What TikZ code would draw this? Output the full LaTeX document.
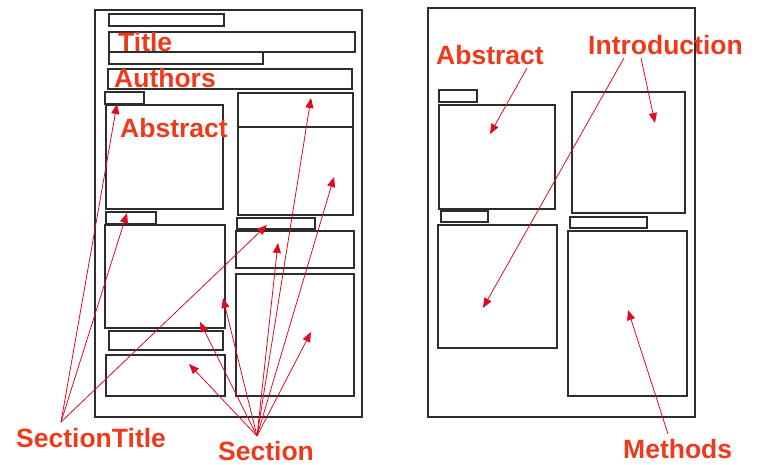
\documentclass[tikz,border=0pt]{standalone}
\usepackage{fontspec}
\setmainfont{Liberation Sans}
\usetikzlibrary{arrows.meta}
\definecolor{labelred}{RGB}{238,58,28}
\definecolor{arrowred}{RGB}{222,12,32}
\definecolor{frame}{RGB}{45,45,45}
\begin{document}
\begin{tikzpicture}[x=1pt,y=-1pt,
  frameline/.style={draw=frame,line width=1.1pt},
  heavy/.style={draw=frame,line width=2.2pt},
  lbl/.style={text=labelred,font=\fontsize{26.5}{30}\selectfont\bfseries,inner sep=0pt,anchor=base west},
  pointer/.style={draw=arrowred,line width=0.8pt,-{Triangle[length=10pt,width=8pt]}}]
\useasboundingbox (0,0) rectangle (759,465);

% ---------- left page ----------
\draw[frameline] (95,10) rectangle (362,417);
\draw[frameline] (109,14) rectangle (224,26);
\draw[frameline] (109,32) rectangle (355,52);
\draw[heavy] (109,52) -- (263,52);
\draw[frameline] (109,52) rectangle (263,64);
\draw[frameline] (108,69) rectangle (352,89);
\draw[frameline] (105,92) rectangle (144,104);
\draw[heavy] (105,104) -- (144,104);
\draw[frameline] (106,105) rectangle (223,209);
\draw[frameline] (238,93) rectangle (353,215);
\draw[heavy] (238,127) -- (353,127);
\draw[frameline] (106,212) rectangle (156,224);
\draw[heavy] (106,224) -- (156,224);
\draw[frameline] (105,225) rectangle (225,328);
\draw[frameline] (109,331) rectangle (223,350);
\draw[frameline] (106,355) rectangle (225,396);
\draw[frameline] (237,218) rectangle (315,229);
\draw[heavy] (237,229) -- (315,229);
\draw[frameline] (236,231) rectangle (354,268);
\draw[frameline] (236,274) rectangle (354,396);

% ---------- right page ----------
\draw[frameline] (428,8) rectangle (695,417);
\draw[frameline] (439,90) rectangle (477,102);
\draw[frameline] (439,105) rectangle (555,209);
\draw[frameline] (572,92) rectangle (685,213);
\draw[frameline] (441,211) rectangle (488,222);
\draw[frameline] (570,217) rectangle (647,228);
\draw[frameline] (438,225) rectangle (557,348);
\draw[frameline] (568,231) rectangle (687,396);

% ---------- labels ----------
\node[lbl] (title) at (118,52) {Title};
\node[lbl] (authors) at (114,88) {Authors};
\node[lbl] (abstractL) at (120,138) {Abstract};
\node[lbl] (sectitle) at (16,447) {SectionTitle};
\node[lbl] (section) at (218,460) {Section};
\node[lbl] (abstractR) at (436,65) {Abstract};
\node[lbl] (intro) at (588,55) {Introduction};
\node[lbl] (methods) at (623,458) {Methods};

% ---------- arrow sources and targets ----------
\coordinate (stsrc) at (61,422);
\coordinate (secsrc) at (257,436);
\coordinate (st1) at (117,104);
\coordinate (st2) at (127,213);
\coordinate (st3) at (267,225);
\coordinate (sc1) at (189,364);
\coordinate (sc2) at (200,322);
\coordinate (sc3) at (223,298);
\coordinate (sc4) at (278,243);
\coordinate (sc5) at (311,98);
\coordinate (sc6) at (334,177);
\coordinate (sc7) at (311,332);
\coordinate (absrc) at (527,68);
\coordinate (abtgt) at (490,134);
\coordinate (insrcA) at (624,58);
\coordinate (insrcB) at (641,58);
\coordinate (intgtA) at (483,308);
\coordinate (intgtB) at (655,123);
\coordinate (mesrc) at (668,434);
\coordinate (metgt) at (628,310);

% ---------- arrows ----------
\foreach \t in {st1,st2,st3} \draw[pointer] (stsrc) -- (\t);
\foreach \t in {sc1,sc2,sc3,sc4,sc5,sc6,sc7} \draw[pointer] (secsrc) -- (\t);
\draw[pointer] (absrc) -- (abtgt);
\draw[pointer] (insrcA) -- (intgtA);
\draw[pointer] (insrcB) -- (intgtB);
\draw[pointer] (mesrc) -- (metgt);
\end{tikzpicture}
\end{document}
